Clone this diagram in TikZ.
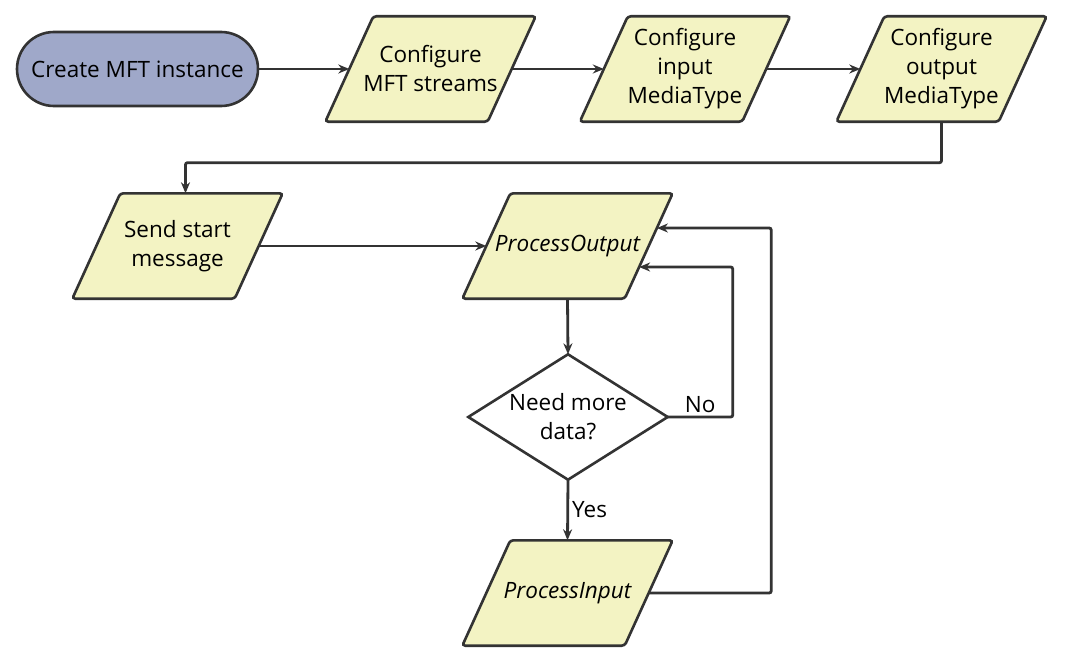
\documentclass[tikz,border=0pt]{standalone}
\usepackage{fontspec}
\setmainfont{Open Sans}
\usetikzlibrary{arrows.meta,calc,backgrounds}
\definecolor{fillY}{HTML}{F3F3C3}
\definecolor{fillB}{HTML}{9FA8C9}
\definecolor{lineC}{HTML}{333333}
\tikzset{
  txt/.style={font=\fontsize{22.5}{29}\selectfont, text=black},
  box/.style={txt, minimum width=162pt, minimum height=105pt, inner sep=0pt, align=center},
  pshape/.style={draw=lineC, fill=fillY, line width=2.6pt, rounded corners=3pt},
  dshape/.style={draw=lineC, fill=white, line width=2.6pt, line join=miter},
  termbox/.style={txt, minimum width=241pt, minimum height=74pt, inner sep=0pt, draw=lineC, fill=fillB, rounded corners=37pt, line width=2.6pt},
  conn/.style={draw=lineC, line width=2.8pt, -{Stealth[length=11pt,width=9pt]}, rounded corners=2pt},
  lbl/.style={txt, inner sep=3pt},
}
\newcommand\drawpara[1]{\path[pshape] ([xshift=24pt]#1.north west) -- ([xshift=24pt]#1.north east) -- ([xshift=-24pt]#1.south east) -- ([xshift=-24pt]#1.south west) -- cycle;}
\begin{document}
\begin{tikzpicture}[x=1pt,y=-1pt]
\useasboundingbox (0,0) rectangle (1068,661);
\node[termbox] (term) at (137.5,69) {Create MFT instance};
\node[box] (c1) at (430.5,69) {Configure\\MFT streams};
\node[box] (c2) at (685,69) {Configure\\input\\MediaType};
\node[box] (c3) at (941.5,69) {Configure\\output\\MediaType};
\node[box] (send) at (177.5,246) {Send start\\message};
\node[box] (pout) at (567.5,246) {\itshape ProcessOutput};
\node[box, minimum width=199pt, minimum height=125pt] (dec) at (568,417) {Need more\\data?};
\node[box] (pin) at (567.5,593) {\itshape ProcessInput};
\begin{scope}[on background layer]
  \drawpara{c1}
  \drawpara{c2}
  \drawpara{c3}
  \drawpara{send}
  \drawpara{pout}
  \drawpara{pin}
  \path[dshape] (dec.north) -- (dec.east) -- (dec.south) -- (dec.west) -- cycle;
\end{scope}
\coordinate (poutN) at ($(pout.east)+(-9.6,21)$);
\coordinate (poutF) at ($(pout.east)+(8.2,-18)$);
\coordinate (sendT) at ($(send.north)+(8,0)$);
\draw[conn] (term.east) -- (c1.west);
\draw[conn] (c1.east) -- (c2.west);
\draw[conn] (c2.east) -- (c3.west);
\draw[conn] (c3.south) -- ++(0,41) -| (sendT);
\draw[conn] (send.east) -- (pout.west);
\draw[conn] (pout.south) -- (dec.north);
\draw[conn] (dec.east) -- node[lbl, above] {No} ++(65,0) |- (poutN);
\draw[conn] (dec.south) -- node[lbl, right] {Yes} (pin.north);
\draw[conn] (pin.east) -- ++(122.5,0) |- (poutF);
\end{tikzpicture}
\end{document}
